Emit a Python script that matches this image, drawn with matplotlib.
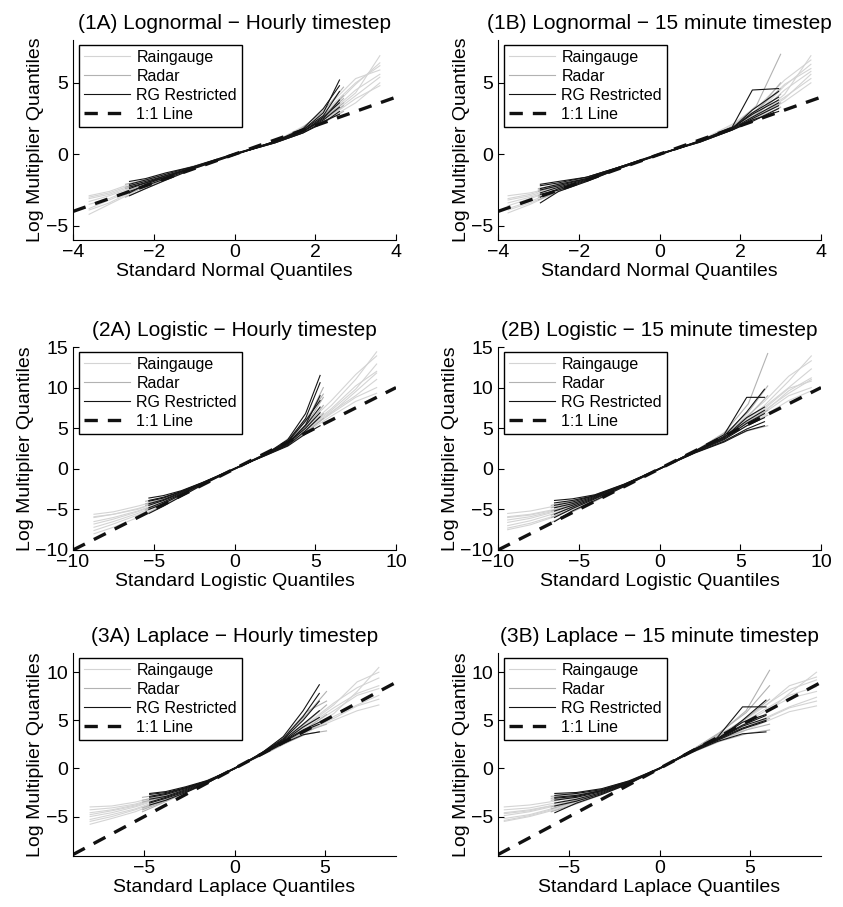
import matplotlib
matplotlib.use('Agg')
import matplotlib.pyplot as plt
import numpy as np

plt.rcParams['font.family'] = ['Liberation Sans', 'DejaVu Sans']

gauge_color = '#d4d4d4'
radar_color = '#b2b2b2'
rg_color = '#151515'

# ---- (1A) Lognormal, hourly ----
gauge_x_1a = [-3.6, -3.1, -2.6, -2.0, -1.0, 0.0, 1.0, 1.8, 2.4, 3.0, 3.6]
gauge_y_1a = [
    [-4.2, -3.5, -2.8, -1.9, -0.9, 0.0, 0.8, 1.8, 2.9, 4.3, 6.9],
    [-3.0, -2.7, -2.2, -1.7, -0.85, 0.0, 0.85, 1.9, 3.2, 4.9, 6.4],
    [-3.3, -2.9, -2.4, -1.8, -0.9, 0.05, 0.8, 1.7, 2.6, 3.6, 5.0],
    [-3.8, -3.2, -2.6, -1.85, -0.9, -0.05, 0.9, 2.0, 3.4, 5.0, 6.2],
    [-2.9, -2.6, -2.1, -1.6, -0.8, 0.0, 0.8, 1.8, 2.7, 3.9, 4.8],
    [-3.5, -3.1, -2.5, -1.9, -0.95, 0.0, 0.85, 1.9, 3.0, 4.5, 5.6],
    [-3.9, -3.4, -2.7, -2.0, -0.9, 0.0, 0.9, 2.1, 3.6, 5.3, 5.9],
    [-3.1, -2.8, -2.3, -1.7, -0.85, 0.05, 0.85, 1.8, 2.8, 4.1, 5.4],
]
radar_x_1a = [-2.7, -2.2, -1.6, -1.0, 0.0, 1.0, 1.6, 2.2, 2.7]
radar_y_1a = [
    [-2.4, -2.0, -1.4, -0.9, 0.0, 0.85, 1.5, 2.4, 3.4],
    [-2.8, -2.3, -1.6, -0.95, 0.0, 0.9, 1.6, 2.7, 4.1],
    [-2.1, -1.8, -1.3, -0.85, 0.05, 0.8, 1.4, 2.2, 3.0],
    [-2.6, -2.1, -1.5, -0.9, 0.0, 0.9, 1.7, 3.0, 4.7],
    [-2.3, -1.9, -1.4, -0.85, 0.0, 0.85, 1.5, 2.5, 3.6],
    [-3.0, -2.4, -1.7, -1.0, -0.05, 0.9, 1.6, 2.6, 3.9],
]
rg_x_1a = [-2.6, -2.2, -1.7, -1.0, 0.0, 1.0, 1.7, 2.2, 2.6]
rg_y_1a = [
    [-2.2, -1.9, -1.5, -0.9, 0.0, 0.85, 1.6, 2.5, 3.8],
    [-2.6, -2.2, -1.7, -0.95, 0.0, 0.9, 1.7, 2.9, 5.2],
    [-1.9, -1.7, -1.3, -0.85, 0.0, 0.8, 1.5, 2.2, 3.0],
    [-2.9, -2.4, -1.8, -1.0, -0.05, 0.9, 1.8, 3.2, 4.8],
    [-2.1, -1.8, -1.4, -0.85, 0.05, 0.85, 1.6, 2.4, 3.3],
    [-2.4, -2.0, -1.6, -0.9, 0.0, 0.9, 1.7, 2.7, 4.4],
    [-2.7, -2.1, -1.6, -0.9, 0.0, 0.8, 1.5, 2.3, 2.8],
    [-2.3, -2.0, -1.5, -0.95, 0.0, 0.85, 1.6, 2.6, 3.6],
]

# ---- (1B) Lognormal, 15 minute ----
gauge_x_1b = [-3.75, -3.2, -2.6, -2.0, -1.0, 0.0, 1.0, 1.8, 2.5, 3.1, 3.75]
gauge_y_1b = [
    [-4.1, -3.5, -2.7, -2.0, -0.95, 0.0, 0.9, 1.8, 2.8, 4.2, 6.9],
    [-2.9, -2.7, -2.3, -1.8, -0.9, 0.0, 0.9, 1.9, 3.1, 4.8, 6.3],
    [-3.4, -3.0, -2.5, -1.9, -0.9, 0.05, 0.85, 1.8, 2.7, 3.7, 5.0],
    [-3.8, -3.3, -2.6, -1.95, -0.95, -0.05, 0.9, 2.0, 3.3, 4.9, 6.0],
    [-3.1, -2.8, -2.3, -1.8, -0.9, 0.0, 0.85, 1.8, 2.9, 4.0, 5.3],
    [-3.6, -3.1, -2.5, -1.9, -0.95, 0.0, 0.9, 1.9, 3.0, 4.5, 5.8],
    [-3.9, -3.4, -2.7, -2.0, -0.95, 0.0, 0.95, 2.1, 3.5, 5.2, 6.6],
    [-3.2, -2.9, -2.4, -1.85, -0.9, 0.05, 0.85, 1.85, 2.8, 3.9, 5.6],
]
radar_x_1b = [-3.0, -2.5, -1.8, -1.0, 0.0, 1.0, 1.8, 2.4, 3.0]
radar_y_1b = [
    [-2.6, -2.2, -1.7, -0.95, 0.0, 0.9, 1.8, 2.8, 4.2],
    [-3.2, -2.6, -1.9, -1.0, 0.0, 0.95, 1.9, 3.4, 7.0],
    [-2.4, -2.1, -1.6, -0.9, 0.05, 0.85, 1.7, 2.5, 3.3],
    [-2.9, -2.4, -1.8, -0.95, 0.0, 0.9, 1.8, 3.0, 5.0],
    [-2.5, -2.2, -1.7, -0.9, 0.0, 0.9, 1.7, 2.6, 3.6],
    [-3.0, -2.5, -1.85, -1.0, -0.05, 0.95, 1.9, 3.1, 4.6],
]
rg_x_1b = [-2.95, -2.5, -1.8, -1.0, 0.0, 1.0, 1.8, 2.3, 2.95]
rg_y_1b = [
    [-2.5, -2.2, -1.7, -0.95, 0.0, 0.9, 1.8, 2.6, 3.6],
    [-3.4, -2.6, -1.9, -1.0, 0.0, 0.95, 1.9, 4.5, 4.6],
    [-2.2, -2.0, -1.6, -0.9, 0.05, 0.85, 1.7, 2.4, 3.0],
    [-3.0, -2.4, -1.8, -0.95, 0.0, 0.9, 1.8, 2.9, 4.0],
    [-2.4, -2.1, -1.7, -0.9, 0.0, 0.9, 1.75, 2.5, 3.4],
    [-2.7, -2.3, -1.75, -0.95, -0.05, 0.95, 1.85, 2.8, 3.8],
    [-2.1, -1.9, -1.6, -0.9, 0.0, 0.85, 1.7, 2.3, 3.2],
    [-2.8, -2.5, -1.85, -1.0, 0.0, 0.9, 1.8, 3.1, 4.4],
]

# ---- (2A) Logistic, hourly ----
gauge_x_2a = [-8.7, -7.5, -6.0, -4.5, -2.5, 0.0, 2.5, 4.5, 6.0, 7.5, 8.8]
gauge_y_2a = [
    [-5.6, -5.3, -4.6, -3.8, -2.2, 0.0, 2.4, 5.2, 7.8, 11.0, 14.4],
    [-8.0, -7.2, -6.0, -4.5, -2.4, 0.0, 2.2, 4.6, 6.5, 8.3, 9.3],
    [-6.5, -6.0, -5.2, -4.1, -2.3, 0.1, 2.3, 4.9, 7.0, 9.0, 11.0],
    [-7.2, -6.5, -5.5, -4.3, -2.3, 0.0, 2.5, 5.5, 8.4, 11.6, 13.9],
    [-6.0, -5.6, -4.9, -4.0, -2.2, 0.0, 2.3, 4.8, 6.8, 8.8, 10.0],
    [-7.6, -6.8, -5.7, -4.4, -2.4, -0.1, 2.4, 5.1, 7.4, 10.2, 12.0],
    [-6.8, -6.2, -5.3, -4.2, -2.3, 0.0, 2.2, 4.7, 6.9, 9.5, 11.8],
    [-5.9, -5.6, -5.0, -3.9, -2.2, 0.05, 2.3, 5.0, 7.2, 9.8, 12.9],
]
radar_x_2a = [-5.5, -4.5, -3.3, -2.0, 0.0, 2.0, 3.3, 4.5, 5.5]
radar_y_2a = [
    [-4.5, -3.9, -3.0, -1.8, 0.0, 1.8, 3.1, 5.2, 7.8],
    [-5.6, -4.6, -3.4, -2.0, -0.05, 1.9, 3.4, 6.0, 10.0],
    [-4.0, -3.6, -2.8, -1.7, 0.05, 1.7, 2.9, 4.6, 6.2],
    [-5.2, -4.3, -3.2, -1.9, 0.0, 1.85, 3.3, 5.6, 8.8],
    [-4.3, -3.8, -2.9, -1.75, 0.0, 1.75, 3.0, 4.8, 6.8],
    [-5.0, -4.2, -3.1, -1.85, 0.0, 1.9, 3.5, 6.3, 9.2],
]
rg_x_2a = [-5.3, -4.4, -3.3, -2.0, 0.0, 2.0, 3.3, 4.4, 5.3]
rg_y_2a = [
    [-3.6, -3.3, -2.7, -1.7, 0.0, 1.8, 3.0, 5.4, 9.0],
    [-5.5, -4.6, -3.4, -2.0, 0.0, 1.9, 3.6, 6.8, 11.5],
    [-4.0, -3.6, -2.8, -1.75, 0.05, 1.7, 2.8, 4.3, 5.3],
    [-4.8, -4.1, -3.1, -1.9, 0.0, 1.85, 3.3, 5.9, 8.4],
    [-4.3, -3.8, -2.9, -1.8, 0.0, 1.75, 2.9, 4.7, 6.4],
    [-3.9, -3.5, -2.8, -1.75, -0.05, 1.8, 3.2, 5.3, 7.6],
    [-5.0, -4.3, -3.2, -1.9, 0.0, 1.9, 3.4, 6.2, 10.6],
    [-4.5, -3.9, -3.0, -1.8, 0.0, 1.8, 3.1, 5.0, 6.9],
]

# ---- (2B) Logistic, 15 minute ----
gauge_x_2b = [-9.4, -8.0, -6.5, -4.8, -2.5, 0.0, 2.5, 4.8, 6.5, 8.0, 9.4]
gauge_y_2b = [
    [-5.5, -5.2, -4.6, -3.8, -2.2, 0.0, 2.4, 5.2, 7.8, 10.8, 13.9],
    [-7.5, -6.9, -5.9, -4.6, -2.4, 0.0, 2.3, 4.6, 6.6, 8.4, 9.6],
    [-6.3, -5.9, -5.2, -4.2, -2.3, 0.05, 2.4, 5.0, 7.2, 9.3, 11.0],
    [-7.0, -6.4, -5.5, -4.4, -2.35, 0.0, 2.5, 5.5, 8.3, 11.4, 13.3],
    [-5.9, -5.6, -5.0, -4.0, -2.25, 0.0, 2.35, 4.8, 6.9, 9.0, 10.0],
    [-7.3, -6.7, -5.8, -4.5, -2.4, -0.05, 2.45, 5.3, 7.6, 10.0, 12.3],
    [-6.6, -6.1, -5.3, -4.3, -2.3, 0.0, 2.3, 4.9, 7.0, 9.6, 11.2],
    [-6.0, -5.7, -5.1, -4.1, -2.2, 0.05, 2.4, 5.1, 7.4, 9.9, 10.8],
]
radar_x_2b = [-6.7, -5.5, -4.0, -2.2, 0.0, 2.2, 4.0, 5.5, 6.7]
radar_y_2b = [
    [-5.2, -4.5, -3.5, -2.0, 0.0, 2.1, 3.8, 5.8, 7.2],
    [-6.6, -5.4, -4.0, -2.2, -0.05, 2.2, 4.4, 8.0, 14.2],
    [-4.5, -4.0, -3.2, -1.9, 0.05, 2.0, 3.5, 4.7, 5.3],
    [-6.0, -5.0, -3.8, -2.1, 0.0, 2.15, 4.1, 6.5, 9.0],
    [-4.8, -4.3, -3.4, -1.95, 0.0, 2.0, 3.7, 5.4, 6.6],
    [-5.7, -4.8, -3.6, -2.05, 0.0, 2.2, 4.2, 7.0, 10.2],
]
rg_x_2b = [-6.5, -5.4, -4.0, -2.2, 0.0, 2.2, 4.0, 5.4, 6.5]
rg_y_2b = [
    [-4.2, -3.9, -3.3, -1.95, 0.0, 2.0, 3.4, 4.9, 5.8],
    [-6.5, -5.2, -3.9, -2.2, 0.0, 2.2, 4.2, 8.8, 8.8],
    [-4.8, -4.3, -3.4, -2.0, 0.05, 2.1, 3.7, 5.6, 6.8],
    [-5.6, -4.7, -3.6, -2.1, 0.0, 2.15, 3.8, 6.3, 7.6],
    [-3.9, -3.7, -3.2, -1.9, 0.0, 1.95, 3.3, 4.7, 5.3],
    [-5.2, -4.5, -3.5, -2.0, -0.05, 2.1, 4.0, 7.0, 9.8],
    [-4.5, -4.1, -3.3, -1.95, 0.0, 2.05, 3.6, 5.3, 6.3],
    [-6.0, -4.9, -3.7, -2.1, 0.0, 2.2, 3.9, 5.9, 7.2],
]

# ---- (3A) Laplace, hourly ----
gauge_x_3a = [-8.0, -6.8, -5.5, -4.0, -2.0, 0.0, 2.0, 4.0, 5.5, 6.8, 8.0]
gauge_y_3a = [
    [-4.0, -3.9, -3.5, -2.8, -1.6, 0.0, 1.9, 4.0, 5.7, 8.0, 10.5],
    [-5.8, -5.2, -4.5, -3.4, -1.9, 0.0, 1.8, 3.8, 5.0, 6.0, 6.6],
    [-4.6, -4.3, -3.8, -3.0, -1.7, 0.05, 2.0, 4.4, 6.3, 7.8, 8.6],
    [-5.3, -4.8, -4.2, -3.2, -1.8, 0.0, 2.1, 4.6, 6.8, 8.4, 9.4],
    [-4.3, -4.1, -3.7, -2.9, -1.7, 0.0, 1.9, 3.9, 5.2, 6.5, 7.2],
    [-5.0, -4.6, -4.0, -3.1, -1.8, -0.05, 2.0, 4.2, 6.0, 7.6, 8.3],
    [-5.5, -5.0, -4.3, -3.3, -1.85, 0.0, 1.85, 3.7, 5.4, 6.6, 7.6],
    [-4.8, -4.4, -3.9, -3.0, -1.75, 0.05, 2.05, 4.5, 6.6, 9.0, 10.0],
]
radar_x_3a = [-5.1, -4.0, -2.8, -1.5, 0.0, 1.5, 2.8, 4.0, 5.1]
radar_y_3a = [
    [-3.5, -3.0, -2.3, -1.4, 0.0, 1.5, 2.9, 4.2, 5.6],
    [-4.5, -3.6, -2.6, -1.5, -0.05, 1.6, 3.3, 5.6, 8.0],
    [-3.0, -2.7, -2.1, -1.3, 0.05, 1.4, 2.6, 3.6, 3.9],
    [-4.1, -3.4, -2.5, -1.45, 0.0, 1.55, 3.0, 4.8, 6.6],
    [-3.3, -2.9, -2.2, -1.35, 0.0, 1.45, 2.7, 3.9, 4.6],
    [-4.3, -3.5, -2.5, -1.5, 0.0, 1.6, 3.4, 5.9, 7.0],
]
rg_x_3a = [-4.7, -3.8, -2.7, -1.5, 0.0, 1.5, 2.7, 3.8, 4.7]
rg_y_3a = [
    [-2.7, -2.5, -2.0, -1.3, 0.0, 1.5, 2.8, 4.3, 5.3],
    [-3.8, -3.3, -2.5, -1.5, 0.0, 1.6, 3.3, 6.0, 8.7],
    [-3.0, -2.7, -2.1, -1.35, 0.05, 1.4, 2.6, 3.5, 3.8],
    [-3.5, -3.0, -2.3, -1.45, 0.0, 1.55, 3.0, 5.0, 7.0],
    [-3.2, -2.9, -2.2, -1.4, 0.0, 1.45, 2.7, 3.9, 4.6],
    [-2.6, -2.4, -1.9, -1.25, -0.05, 1.5, 2.9, 4.6, 6.0],
    [-3.6, -3.1, -2.4, -1.5, 0.0, 1.6, 3.1, 5.4, 7.8],
    [-2.9, -2.6, -2.0, -1.3, 0.0, 1.5, 2.8, 4.0, 4.8],
]

# ---- (3B) Laplace, 15 minute ----
gauge_x_3b = [-8.6, -7.2, -5.8, -4.2, -2.0, 0.0, 2.0, 4.2, 5.8, 7.2, 8.7]
gauge_y_3b = [
    [-4.0, -3.8, -3.4, -2.7, -1.5, 0.0, 1.9, 3.9, 5.6, 7.8, 10.0],
    [-5.5, -5.0, -4.3, -3.3, -1.8, 0.0, 1.8, 3.5, 4.8, 5.9, 6.5],
    [-4.6, -4.3, -3.8, -3.0, -1.65, 0.05, 2.0, 4.3, 6.1, 7.6, 8.5],
    [-5.2, -4.8, -4.1, -3.2, -1.75, 0.0, 2.1, 4.5, 6.5, 8.2, 9.2],
    [-4.3, -4.1, -3.6, -2.85, -1.6, 0.0, 1.9, 3.8, 5.1, 6.3, 7.0],
    [-4.9, -4.5, -3.9, -3.1, -1.7, -0.05, 2.0, 4.1, 5.9, 7.3, 8.0],
    [-5.4, -4.9, -4.2, -3.25, -1.8, 0.0, 1.85, 3.6, 5.2, 6.4, 7.4],
    [-4.7, -4.4, -3.8, -2.95, -1.65, 0.05, 2.05, 4.4, 6.4, 8.6, 9.5],
]
radar_x_3b = [-6.0, -4.8, -3.3, -1.7, 0.0, 1.7, 3.3, 4.8, 6.1]
radar_y_3b = [
    [-3.3, -3.0, -2.4, -1.4, 0.0, 1.7, 3.1, 4.3, 5.2],
    [-4.5, -3.8, -2.8, -1.6, -0.05, 1.8, 3.6, 6.0, 10.2],
    [-2.9, -2.7, -2.2, -1.3, 0.05, 1.6, 2.8, 3.6, 4.0],
    [-4.0, -3.4, -2.6, -1.5, 0.0, 1.75, 3.4, 5.2, 7.2],
    [-3.1, -2.8, -2.3, -1.35, 0.0, 1.65, 3.0, 4.0, 4.6],
    [-4.2, -3.5, -2.7, -1.55, 0.0, 1.8, 3.7, 5.8, 8.6],
]
rg_x_3b = [-5.8, -4.6, -3.2, -1.7, 0.0, 1.7, 3.2, 4.6, 5.9]
rg_y_3b = [
    [-2.6, -2.5, -2.1, -1.3, 0.0, 1.65, 3.0, 4.2, 5.0],
    [-4.6, -3.6, -2.7, -1.6, 0.0, 1.8, 3.2, 6.4, 6.4],
    [-3.0, -2.8, -2.3, -1.4, 0.05, 1.6, 2.8, 3.6, 3.8],
    [-3.6, -3.2, -2.5, -1.5, 0.0, 1.75, 3.1, 4.8, 5.6],
    [-3.3, -3.0, -2.4, -1.45, 0.0, 1.7, 2.9, 4.1, 4.9],
    [-2.8, -2.6, -2.2, -1.35, -0.05, 1.65, 3.0, 5.0, 7.1],
    [-3.9, -3.4, -2.6, -1.55, 0.0, 1.8, 3.1, 4.5, 5.5],
    [-3.1, -2.9, -2.3, -1.4, 0.0, 1.7, 3.0, 4.4, 5.2],
]


def qq_panel(ax, title, xlabel, xlim, ylim, xticks, yticks,
             gx, gy, rx, ry, kx, ky):
    for y in gy:
        ax.plot(gx, y, color=gauge_color, lw=0.8)
    for y in ry:
        ax.plot(rx, y, color=radar_color, lw=0.8)
    for y in ky:
        ax.plot(kx, y, color=rg_color, lw=0.8)
    ax.plot(xlim, xlim, '--', color='#111111', lw=2.4, dashes=(4, 3))

    handles = [
        plt.Line2D([], [], color=gauge_color, lw=0.8),
        plt.Line2D([], [], color=radar_color, lw=0.8),
        plt.Line2D([], [], color=rg_color, lw=0.8),
        plt.Line2D([], [], color='#111111', lw=2.4, ls='--', dashes=(4, 3)),
    ]
    leg = ax.legend(handles, ['Raingauge', 'Radar', 'RG Restricted', '1:1 Line'],
                    loc='upper left', bbox_to_anchor=(0.018, 0.975),
                    fontsize=11.5, frameon=True, fancybox=False, framealpha=1,
                    borderaxespad=0, handlelength=2.9, handletextpad=0.4,
                    labelspacing=0.25, borderpad=0.3)
    leg.get_frame().set_edgecolor('black')
    leg.get_frame().set_linewidth(1.0)

    ax.set_xlim(xlim)
    ax.set_ylim(ylim)
    ax.set_xticks(xticks)
    ax.set_yticks(yticks)
    ax.spines['top'].set_visible(False)
    ax.spines['right'].set_visible(False)
    ax.tick_params(direction='in', length=4, labelsize=14, width=0.8)
    ax.tick_params(axis='x', pad=3)
    ax.set_title(title, fontsize=15, pad=8)
    ax.set_xlabel(xlabel, fontsize=14, labelpad=1)
    ax.set_ylabel('Log Multiplier Quantiles', fontsize=14, labelpad=1)


fig = plt.figure(figsize=(8.43, 9.07), dpi=100)
W, H = 843.0, 907.0
col_left = [73, 498]
row_top = [40, 347, 653]
row_h = [200, 203, 203]
axw = 323


def make_ax(r, c):
    return fig.add_axes([col_left[c] / W, 1 - (row_top[r] + row_h[r]) / H,
                         axw / W, row_h[r] / H])


qq_panel(make_ax(0, 0), '(1A) Lognormal \u2212 Hourly timestep', 'Standard Normal Quantiles',
         (-4, 4), (-6, 8), [-4, -2, 0, 2, 4], [-5, 0, 5],
         gauge_x_1a, gauge_y_1a, radar_x_1a, radar_y_1a, rg_x_1a, rg_y_1a)
qq_panel(make_ax(0, 1), '(1B) Lognormal \u2212 15 minute timestep', 'Standard Normal Quantiles',
         (-4, 4), (-6, 8), [-4, -2, 0, 2, 4], [-5, 0, 5],
         gauge_x_1b, gauge_y_1b, radar_x_1b, radar_y_1b, rg_x_1b, rg_y_1b)
qq_panel(make_ax(1, 0), '(2A) Logistic \u2212 Hourly timestep', 'Standard Logistic Quantiles',
         (-10, 10), (-10, 15), [-10, -5, 0, 5, 10], [-10, -5, 0, 5, 10, 15],
         gauge_x_2a, gauge_y_2a, radar_x_2a, radar_y_2a, rg_x_2a, rg_y_2a)
qq_panel(make_ax(1, 1), '(2B) Logistic \u2212 15 minute timestep', 'Standard Logistic Quantiles',
         (-10, 10), (-10, 15), [-10, -5, 0, 5, 10], [-10, -5, 0, 5, 10, 15],
         gauge_x_2b, gauge_y_2b, radar_x_2b, radar_y_2b, rg_x_2b, rg_y_2b)
qq_panel(make_ax(2, 0), '(3A) Laplace \u2212 Hourly timestep', 'Standard Laplace Quantiles',
         (-8.95, 8.95), (-9.1, 12), [-5, 0, 5], [-5, 0, 5, 10],
         gauge_x_3a, gauge_y_3a, radar_x_3a, radar_y_3a, rg_x_3a, rg_y_3a)
qq_panel(make_ax(2, 1), '(3B) Laplace \u2212 15 minute timestep', 'Standard Laplace Quantiles',
         (-8.95, 8.95), (-9.1, 12), [-5, 0, 5], [-5, 0, 5, 10],
         gauge_x_3b, gauge_y_3b, radar_x_3b, radar_y_3b, rg_x_3b, rg_y_3b)

plt.savefig('out.png', dpi=100)
